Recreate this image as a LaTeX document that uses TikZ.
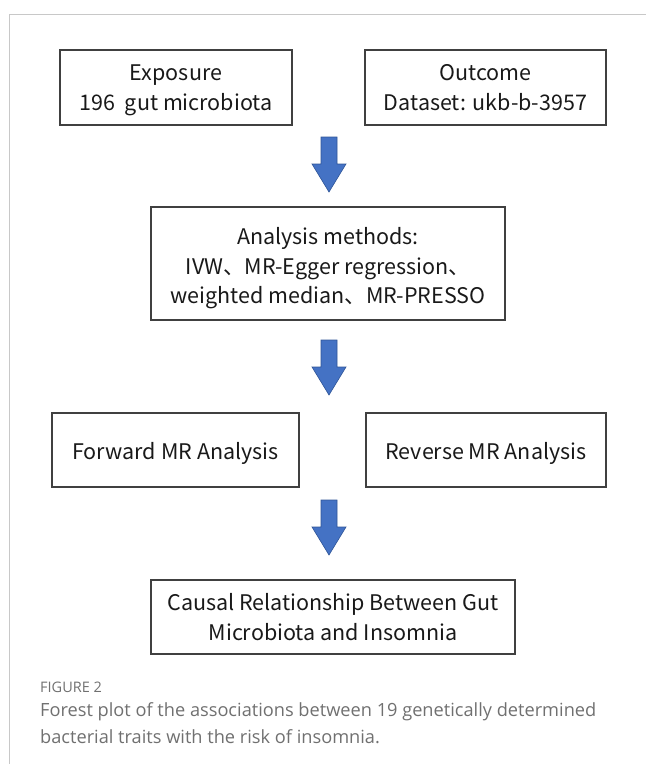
\documentclass[tikz,border=0pt]{standalone}
\usepackage{fontspec}
\setmainfont{Noto Sans CJK SC}
\newfontfamily\capfont{Open Sans}
\definecolor{boxline}{HTML}{404040}
\definecolor{arrowfill}{HTML}{4472C4}
\definecolor{arrowline}{HTML}{2F5597}
\definecolor{framegray}{HTML}{C8C8C8}
\definecolor{captiongray}{HTML}{707070}
\newcommand\toprule[1]{\rule{0pt}{#1pt}}
\newcommand\botrule{\rule[-9pt]{0pt}{9pt}}
\begin{document}
\begin{tikzpicture}[x=1pt,y=-1pt,
  flowbox/.style={draw=boxline,line width=1.1pt,minimum width=#1,inner sep=0pt,align=center,font=\fontsize{21.5}{29.5}\selectfont,text=black!90},
  flowbox/.default=240pt,
  downarrow/.pic={\filldraw[fill=arrowfill,draw=arrowline,line width=0.6pt]
     (-8,0) -- (8,0) -- (8,27) -- (17,27) -- (0,55) -- (-17,27) -- (-8,27) -- cycle;}
]
\useasboundingbox (0,0) rectangle (646,764);
\draw[framegray,line width=0.8pt] (646,14) -- (9,14) -- (9,764);

\node[flowbox=232pt,minimum height=75pt] (expo) at (176,87.5) {\toprule{25}Exposure\\196\ \ gut microbiota\botrule};
\node[flowbox=241pt,minimum height=75pt] (outc) at (485.5,87.5) {\toprule{25}Outcome\\Dataset: ukb-b-3957\botrule};
\pic at (329,137) {downarrow};
\node[flowbox=354pt,minimum height=113pt] (meth) at (328,263.5) {\toprule{30}Analysis methods:\\IVW、MR-Egger regression、\\weighted median、MR-PRESSO\botrule};
\pic at (329,340) {downarrow};
\node[flowbox=247pt,minimum height=74pt] (fwd) at (175.5,450) {\toprule{27}Forward MR Analysis\botrule};
\node[flowbox=240pt,minimum height=74pt] (rev) at (486,450) {\toprule{27}Reverse MR Analysis\botrule};
\pic at (329,500) {downarrow};
\node[flowbox=364pt,minimum height=74pt] (caus) at (333,617) {\toprule{25.5}Causal Relationship Between Gut\\Microbiota and Insomnia\botrule};

\node[anchor=west,text=captiongray,font=\capfont\fontsize{14.5}{16}\selectfont,inner sep=0pt] (figlab) at (40,687) {FIGURE 2};
\node[anchor=north west,text=captiongray,align=left,font=\capfont\fontsize{18.2}{27}\selectfont,inner sep=0pt] (cap) at (40,702) {Forest plot of the associations between 19 genetically determined\\bacterial traits with the risk of insomnia.};
\end{tikzpicture}
\end{document}
